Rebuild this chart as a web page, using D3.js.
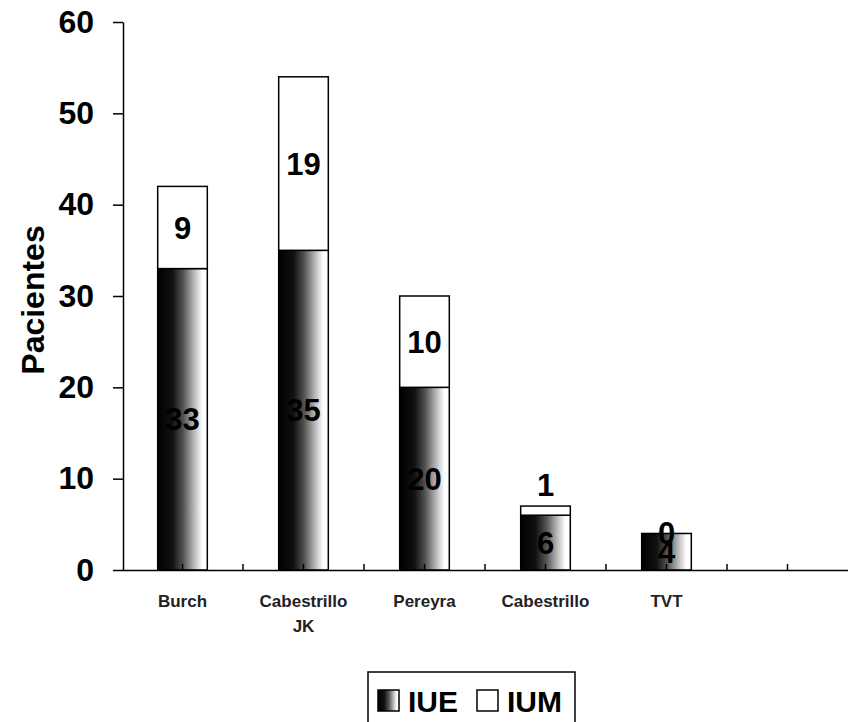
<!DOCTYPE html>
<html>
<head>
<meta charset="utf-8">
<script src="https://cdn.jsdelivr.net/npm/d3@7"></script>
<style>
  body { margin: 0; background: #fff; }
  svg { display: block; font-family: "Liberation Sans", Arial, sans-serif; }
  .axis path, .axis line { stroke: #000; stroke-width: 1.5px; }
</style>
</head>
<body>
<div id="chart"></div>
<script>
// Values
const categories = ["Burch", "Cabestrillo JK", "Pereyra", "Cabestrillo", "TVT", ""];
const iue = [33, 35, 20, 6, 4];
const ium = [9, 19, 10, 1, 0];
const yTicks = [0, 10, 20, 30, 40, 50, 60];
const seriesNames = ["IUE", "IUM"];

const width = 848, height = 722;

const svg = d3.select("#chart")
  .append("svg")
  .attr("width", width)
  .attr("height", height);

// gradient used for the IUE bars (dark on the left, fading to white)
const defs = svg.append("defs");
const grad = defs.append("linearGradient")
  .attr("id", "iueFill")
  .attr("x1", "0%").attr("x2", "100%")
  .attr("y1", "0%").attr("y2", "0%");
[[0, "#000"], [0.3, "#111"], [0.52, "#555"], [0.74, "#bbb"], [0.9, "#fff"], [1, "#fff"]]
  .forEach(s => grad.append("stop").attr("offset", s[0]).attr("stop-color", s[1]));

// scales
const x = d3.scaleBand()
  .domain(categories)
  .range([122, 848])
  .padding(0);

const y = d3.scaleLinear()
  .domain([0, 60])
  .range([570, 22]);

const bw = x.bandwidth();
const barW = bw * 0.41;
const barX = c => x(c) + (bw - barW) / 2;

// stacked data
const rows = iue.map((v, i) => ({ cat: categories[i], iue: v, ium: ium[i] }));
const stack = d3.stack().keys(["iue", "ium"])(rows);

// bars
const fills = { iue: "url(#iueFill)", ium: "#fff" };
stack.forEach(layer => {
  svg.append("g")
    .selectAll("rect")
    .data(layer)
    .join("rect")
    .attr("x", d => barX(d.data.cat))
    .attr("y", d => y(d[1]))
    .attr("width", barW)
    .attr("height", d => y(d[0]) - y(d[1]))
    .attr("fill", fills[layer.key])
    .attr("stroke", "#000")
    .attr("stroke-width", 1.5);
});

// X axis: ticks at category centres and boundaries, pointing up
const xAxis = svg.append("g")
  .attr("class", "axis")
  .attr("transform", "translate(0,570)")
  .call(d3.axisBottom(x).tickSizeInner(-6).tickSizeOuter(0).tickFormat(""));

xAxis.selectAll(".bound")
  .data(categories.slice(1))
  .join("line")
  .attr("class", "bound")
  .attr("x1", d => x(d)).attr("x2", d => x(d))
  .attr("y1", 0).attr("y2", -6)
  .attr("stroke", "#000").attr("stroke-width", 1.5);

// category labels (split on the space for the two-line one)
const catLabel = svg.append("g")
  .selectAll("text")
  .data(categories.filter(c => c))
  .join("text")
  .attr("text-anchor", "middle")
  .attr("font-size", 17)
  .attr("font-weight", "bold")
  .attr("fill", "#222");

catLabel.each(function (c) {
  const lines = c === "Cabestrillo JK" ? ["Cabestrillo", "JK"] : [c];
  d3.select(this).selectAll("tspan")
    .data(lines)
    .join("tspan")
    .attr("x", x(c) + bw / 2)
    .attr("y", (d, i) => 607 + i * 25)
    .text(d => d);
});

// Y axis
svg.append("g")
  .attr("class", "axis")
  .attr("transform", "translate(123,0)")
  .call(d3.axisLeft(y).tickValues(yTicks).tickSize(10).tickSizeOuter(0).tickPadding(19))
  .selectAll("text")
  .attr("font-size", 32)
  .attr("font-weight", "bold")
  .attr("font-family", "Liberation Sans, Arial, sans-serif")
  .attr("fill", "#000");

// Y title
svg.append("text")
  .attr("transform", "translate(44,300) rotate(-90)")
  .attr("text-anchor", "middle")
  .attr("font-size", 32)
  .attr("font-weight", "bold")
  .text("Pacientes");

// value labels, centred in each segment, above the bar if the segment is thin
stack.forEach(layer => {
  svg.append("g")
    .selectAll("text")
    .data(layer)
    .join("text")
    .attr("x", d => barX(d.data.cat) + barW / 2)
    .attr("y", d => {
      const h = y(d[0]) - y(d[1]);
      if (h > 0 && h < 20) return y(d[1]) - 10;
      return (y(d[0]) + y(d[1])) / 2 + 11;
    })
    .attr("text-anchor", "middle")
    .attr("font-size", 31)
    .attr("font-weight", "bold")
    .text(d => d[1] - d[0]);
});

// legend
const legend = svg.append("g");
legend.append("rect")
  .attr("x", 368).attr("y", 672)
  .attr("width", 207).attr("height", 60)
  .attr("fill", "#fff").attr("stroke", "#000").attr("stroke-width", 1.5);

const legItems = legend.selectAll(".item")
  .data(seriesNames)
  .join("g")
  .attr("class", "item")
  .attr("transform", (d, i) => "translate(" + (378 + i * 99) + ",690)");

legItems.append("rect")
  .attr("width", 21).attr("height", 21)
  .attr("fill", (d, i) => i === 0 ? "url(#iueFill)" : "#fff")
  .attr("stroke", "#000").attr("stroke-width", 1.5);

legItems.append("text")
  .attr("x", 30).attr("y", 22)
  .attr("font-size", 30)
  .attr("font-weight", "bold")
  .text(d => d);
</script>
</body>
</html>
